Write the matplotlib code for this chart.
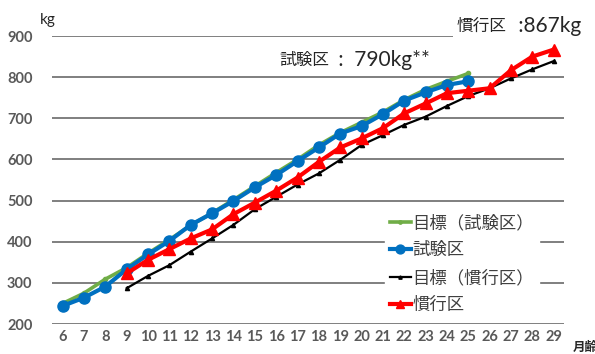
import matplotlib
matplotlib.use("Agg")
import matplotlib.pyplot as plt

plt.rcParams['font.family'] = ['Lato', 'Noto Sans CJK JP', 'DejaVu Sans']

# Months of age
months_trial = list(range(6, 26))
months_conv = list(range(9, 30))

# 目標（試験区）
target_trial = [250, 275, 309, 337, 372, 405, 440, 470, 502, 535, 568, 600,
                635, 665, 690, 715, 745, 770, 790, 809]
# 試験区
trial = [244, 264, 291, 333, 369, 402, 441, 469, 499, 532, 562, 596,
         629, 663, 681, 710, 743, 763, 781, 790]
# 目標（慣行区）
target_conv = [287, 317, 343, 376, 408, 441, 479, 509, 539, 566, 599, 635,
               659, 684, 704, 730, 754, 773, 797, 819, 839]
# 慣行区
conv = [323, 356, 382, 408, 430, 467, 495, 524, 556, 594, 629, 651,
        676, 712, 736, 761, 767, 773, 817, 850, 867]

labels = ['目標（試験区）', '試験区', '目標（慣行区）', '慣行区']
xticks = list(range(6, 30))
yticks = [200, 300, 400, 500, 600, 700, 800, 900]

fig = plt.figure(figsize=(5.95, 3.54), dpi=100)
ax = fig.add_axes([52 / 595, 30 / 354, 512.4 / 595, 288 / 354])

ax.set_xlim(5.5, 29.5)
ax.set_ylim(200, 900)
ax.set_yticks(yticks)
ax.set_xticks(xticks)
ax.grid(axis='y', color='#7f7f7f', lw=1.4)
ax.set_axisbelow(True)
for s in ax.spines.values():
    s.set_visible(False)
ax.tick_params(length=0, labelsize=10.5, colors='#595959', pad=4)
ax.tick_params(axis='y', pad=14)
for t in ax.get_xticklabels() + ax.get_yticklabels():
    t.set_fontweight('bold')

green = '#70ad47'
blue = '#0070c0'
red = '#ff0000'
black = '#000000'

l1, = ax.plot(months_trial, target_trial, color=green, lw=2.6, marker='o', ms=3,
              label=labels[0], zorder=3)
l2, = ax.plot(months_trial, trial, color=blue, lw=3, marker='o', ms=8,
              label=labels[1], zorder=4)
l3, = ax.plot(months_conv, target_conv, color=black, lw=1.6, marker='^', ms=3,
              label=labels[2], zorder=3)
l4, = ax.plot(months_conv, conv, color=red, lw=3, marker='^', ms=8,
              label=labels[3], zorder=5)

leg = ax.legend(handles=[l1, l2, l3, l4], loc='upper left',
                bbox_to_anchor=((376 - 52) / 512.4, (324 - 201) / 288),
                frameon=True, framealpha=1, edgecolor='white', facecolor='white',
                fontsize=12.5, handlelength=1.2, handletextpad=0.1,
                labelspacing=0.62, borderpad=0.3, markerscale=0.8)
for t in leg.get_texts():
    t.set_color('#404040')

fig.text(40 / 595, 1 - 20 / 354, 'kg', fontsize=11, color='#262626',
         va='center', ha='left')
fig.text(573 / 595, 1 - 347 / 354, '月齢', fontsize=9, fontweight='bold',
         color='#262626', va='center', ha='left')

# Final-weight annotations
fig.text(457 / 595, 1 - 26 / 354, '慣行区', fontsize=12, color='#262626',
         va='center', ha='left',
         bbox=dict(facecolor='white', edgecolor='none', pad=3))
fig.text(513 / 595, 1 - 26 / 354, ' :867kg', fontsize=15, color='#262626',
         va='center', ha='left',
         bbox=dict(facecolor='white', edgecolor='none', pad=2))
fig.text(279 / 595, 1 - 60 / 354, '試験区', fontsize=12, color='#262626',
         va='center', ha='left')
fig.text(333 / 595, 1 - 60 / 354, ' :  790kg**', fontsize=15, color='#262626',
         va='center', ha='left')

fig.savefig('out.png', dpi=100, facecolor='white')
